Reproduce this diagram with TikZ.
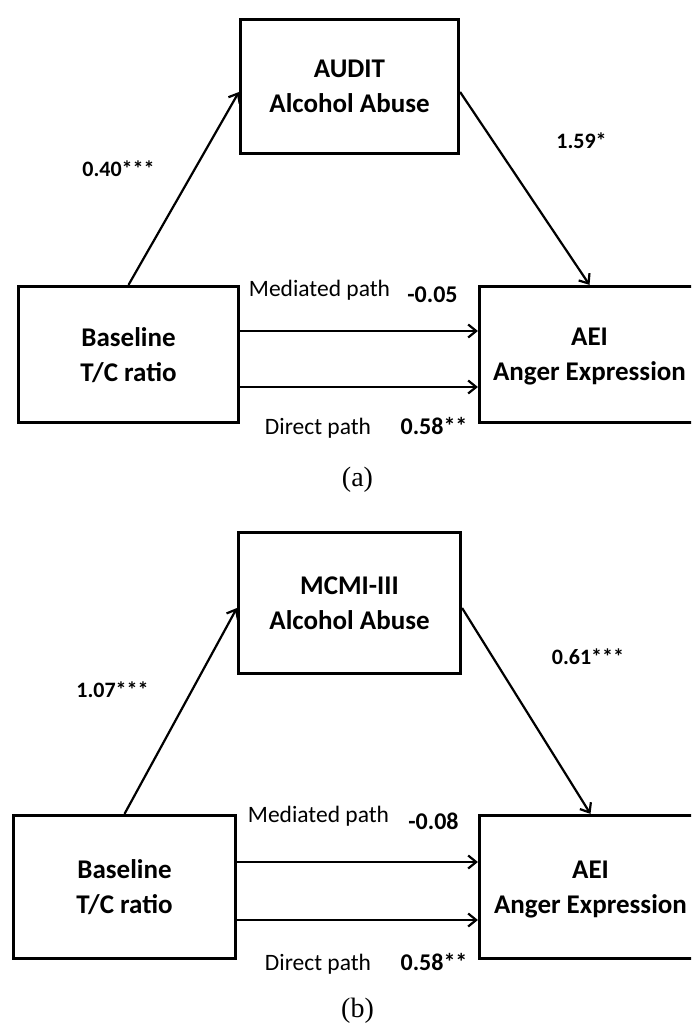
\documentclass[tikz,border=0pt]{standalone}
\usepackage{fontspec}
\setmainfont{Carlito}
\newfontfamily\capfont{Liberation Serif}
\usetikzlibrary{arrows.meta}
\begin{document}
\begin{tikzpicture}[x=1pt,y=-1pt,
  boxnode/.style={draw, line width=3.2pt, align=center, inner sep=0pt, text depth=0pt,
    font=\fontsize{27}{35}\selectfont\bfseries},
  conn/.style={line width=2.2pt, -{Straight Barb[length=8pt,width=13pt]}},
  coef/.style={anchor=base, font=\fontsize{22}{26}\selectfont\bfseries},
  pathlab/.style={anchor=base, font=\fontsize{23.5}{28}\selectfont},
  pathcoef/.style={anchor=base, font=\fontsize{24}{28}\selectfont\bfseries},
  capt/.style={anchor=base, font=\capfont\fontsize{28}{32}\selectfont}]
\useasboundingbox (0,0) rectangle (691,1027);
\clip (0,0) rectangle (691,1027);

% ---------- panel (a) ----------
\node[boxnode, minimum width=218pt, minimum height=134pt] (Ta) at (349.5,86.5) {AUDIT\\Alcohol Abuse};
\node[boxnode, minimum width=220pt, minimum height=136pt] (La) at (128.5,354.5) {Baseline\\T/C ratio};
\node[boxnode, minimum width=220pt, minimum height=136pt] (Ra) at (589.5,354.5) {AEI\\Anger Expression};

\draw[conn] (La.north) -- ([yshift=-5.5pt]Ta.west);
\draw[conn] ([yshift=-5.5pt]Ta.east) -- (Ra.north);
\draw[conn] ([yshift=23.5pt]La.east) -- ([yshift=23.5pt]Ra.west);
\draw[conn] ([yshift=-32.5pt]La.east) -- ([yshift=-32.5pt]Ra.west);

\node[coef] (a1) at (118.5,177) {0.40***};
\node[coef] (a2) at (581.5,149) {1.59*};
\node[pathlab] (a3) at (319.5,296.5) {Mediated path};
\node[pathcoef] (a4) at (432.5,302.5) {-0.05};
\node[pathlab] (a5) at (318,434.5) {Direct path};
\node[pathcoef] (a6) at (434,434.5) {0.58**};
\node[capt] (a7) at (357.5,486) {(a)};

% ---------- panel (b) ----------
\node[boxnode, minimum width=222pt, minimum height=141pt] (Tb) at (349.5,603) {MCMI-III\\Alcohol Abuse};
\node[boxnode, minimum width=222pt, minimum height=143pt] (Lb) at (124.5,887) {Baseline\\T/C ratio};
\node[boxnode, minimum width=222pt, minimum height=143pt] (Rb) at (590.5,887) {AEI\\Anger Expression};

\draw[conn] (Lb.north) -- ([yshift=-5pt]Tb.west);
\draw[conn] ([yshift=-5pt]Tb.east) -- (Rb.north);
\draw[conn] ([yshift=25pt]Lb.east) -- ([yshift=25pt]Rb.west);
\draw[conn] ([yshift=-33pt]Lb.east) -- ([yshift=-33pt]Rb.west);

\node[coef] (b1) at (112.5,697) {1.07***};
\node[coef] (b2) at (588,664) {0.61***};
\node[pathlab] (b3) at (318.5,822.5) {Mediated path};
\node[pathcoef] (b4) at (433.5,829.5) {-0.08};
\node[pathlab] (b5) at (318,970.5) {Direct path};
\node[pathcoef] (b6) at (434,970.5) {0.58**};
\node[capt] (b7) at (357.5,1017) {(b)};
\end{tikzpicture}
\end{document}
